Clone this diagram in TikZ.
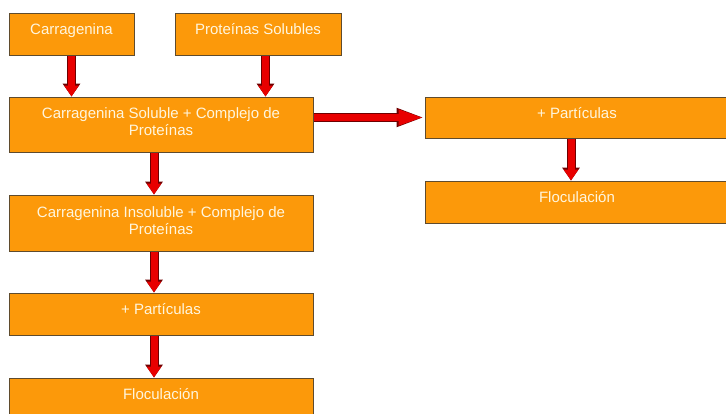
\documentclass[tikz,border=0pt]{standalone}
\usepackage{fontspec}
\setmainfont{Liberation Sans}
\usetikzlibrary{arrows.meta,positioning}

\definecolor{boxfill}{RGB}{252,153,10}
\definecolor{boxedge}{RGB}{95,75,45}
\definecolor{boxtext}{RGB}{255,246,222}
\definecolor{arrowred}{RGB}{232,0,0}
\definecolor{arrowedge}{RGB}{110,0,0}

\begin{document}
\begin{tikzpicture}[x=1pt, y=-1pt, node distance=42pt,
                    box/.style={draw=boxedge, line width=1pt, fill=boxfill, text=boxtext,
                                font=\fontsize{15}{17}\selectfont, align=center, inner sep=0pt,
                                text height=11pt, text depth=10pt, minimum height=42pt},
                    twoline/.style={text height=28pt, text depth=6pt, minimum height=55pt},
                    wide/.style={minimum width=304pt},
                    flow/.style={draw=arrowred, line width=7pt,
                                 -{Triangle[length=11pt,width=14pt]},
                                 preaction={draw=arrowedge, line width=9pt,
                                            -{Triangle[length=13pt,width=17pt]}}},
                    longflow/.style={draw=arrowred, line width=7pt,
                                 -{Triangle[length=26pt,width=14pt]},
                                 preaction={draw=arrowedge, line width=9pt,
                                            -{Triangle[length=28pt,width=17pt]}}}]
    %\draw[help lines] (0,0) grid[step=50pt] (726,413);
    \clip (0,0) rectangle (726,413);
    \useasboundingbox (0,0) rectangle (726,413);

   \node[box, minimum width=125pt] (carragenina) at (71.5,34) {Carragenina};
   \node[box, minimum width=166pt] (proteinas) at (258,34) {Proteínas Solubles};
   \node[box, twoline, wide] (soluble) at (161,124.5) {Carragenina Soluble + Complejo de\\Proteínas};
   \node[box, twoline, wide, minimum height=56pt] (insoluble) [below=of soluble] {Carragenina Insoluble + Complejo de\\Proteínas};
   \node[box, wide] (particulas) [below=41pt of insoluble] {+ Partículas};
   \node[box, wide] (floculacion) [below=of particulas] {Floculación};
   \node[box, wide, minimum height=41pt] (particulas_b) at (577,117.5) {+ Partículas};
   \node[box, wide] (floculacion_b) [below=of particulas_b] {Floculación};

   % Define transitions
   \draw[flow] (carragenina.south) -- (carragenina.south |- soluble.north);
   \draw[flow] ([xshift=7.5pt]proteinas.south) -- ([xshift=7.5pt]proteinas.south |- soluble.north);
   \draw[flow] ([xshift=-7pt]soluble.south) -- ([xshift=-7pt]soluble.south |- insoluble.north);
   \draw[flow] ([xshift=-7pt]insoluble.south) -- ([xshift=-7pt]insoluble.south |- particulas.north);
   \draw[flow] ([xshift=-7pt]particulas.south) -- ([xshift=-7pt]particulas.south |- floculacion.north);
   \draw[longflow] (soluble.east |- particulas_b) -- (particulas_b.west);
   \draw[flow] ([xshift=-6pt]particulas_b.south) -- ([xshift=-6pt]particulas_b.south |- floculacion_b.north);

\end{tikzpicture}
\end{document}
